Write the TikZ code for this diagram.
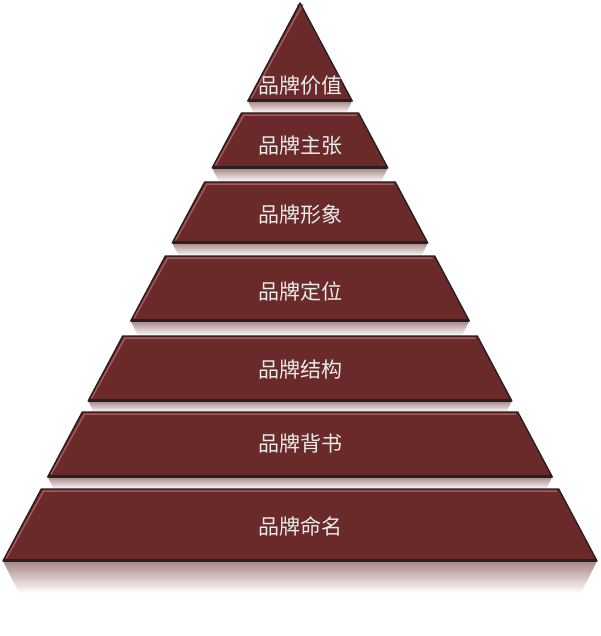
\documentclass[tikz,border=0pt]{standalone}
\usepackage{fontspec}
\newfontfamily\cjk{Noto Sans CJK SC}
\definecolor{brick}{RGB}{106,42,42}
\definecolor{bevel}{RGB}{165,88,88}
\definecolor{refl}{RGB}{168,134,134}
\definecolor{edge}{RGB}{40,32,32}
\newcommand\pyrlayer[3]{%
  \pgfmathsetmacro\wt{0.5323*(#1-3)}%
  \pgfmathsetmacro\wb{0.5323*(#2-3)}%
  \shade[top color=refl, bottom color=white]
    (300-\wb,#2) -- (300+\wb,#2) -- (300+\wb-0.5*#3,#2+#3) -- (300-\wb+0.5*#3,#2+#3) -- cycle;
  \fill[brick] (300-\wt,#1) -- (300+\wt,#1) -- (300+\wb,#2) -- (300-\wb,#2) -- cycle;
  \draw[bevel, line width=1.5pt, line cap=round]
    (300-\wb+3.5,#2-3) -- (300-\wt+2.2,#1+2.2) -- (300+\wt-2.2,#1+2.2);
  \draw[edge, line width=1.4pt, line join=round]
    (300-\wt,#1) -- (300+\wt,#1) -- (300+\wb,#2) -- (300-\wb,#2) -- cycle;
  \draw[edge, line width=2.6pt] (300-\wb+1,#2-0.6) -- (300+\wb-1,#2-0.6);
}
\tikzset{lbl/.style={text=white!92!black, font=\cjk\fontsize{21}{23}\selectfont, inner sep=0pt}}
\begin{document}
\begin{tikzpicture}[x=1pt,y=-1pt]
\useasboundingbox (0,0) rectangle (600,636);
\fill[white] (0,0) rectangle (600,636);
\pyrlayer{3}{101}{12}
\pyrlayer{113}{168}{14}
\pyrlayer{182}{243}{13}
\pyrlayer{256}{321}{15}
\pyrlayer{336}{401}{11}
\pyrlayer{412}{477}{12}
\pyrlayer{489}{561}{32}
\node[lbl] (l1) at (300,86) {品牌价值};
\node[lbl] (l2) at (300,146) {品牌主张};
\node[lbl] (l3) at (300,215) {品牌形象};
\node[lbl] (l4) at (300,291) {品牌定位};
\node[lbl] (l5) at (300,370) {品牌结构};
\node[lbl] (l6) at (300,444) {品牌背书};
\node[lbl] (l7) at (300,526) {品牌命名};
\end{tikzpicture}
\end{document}
